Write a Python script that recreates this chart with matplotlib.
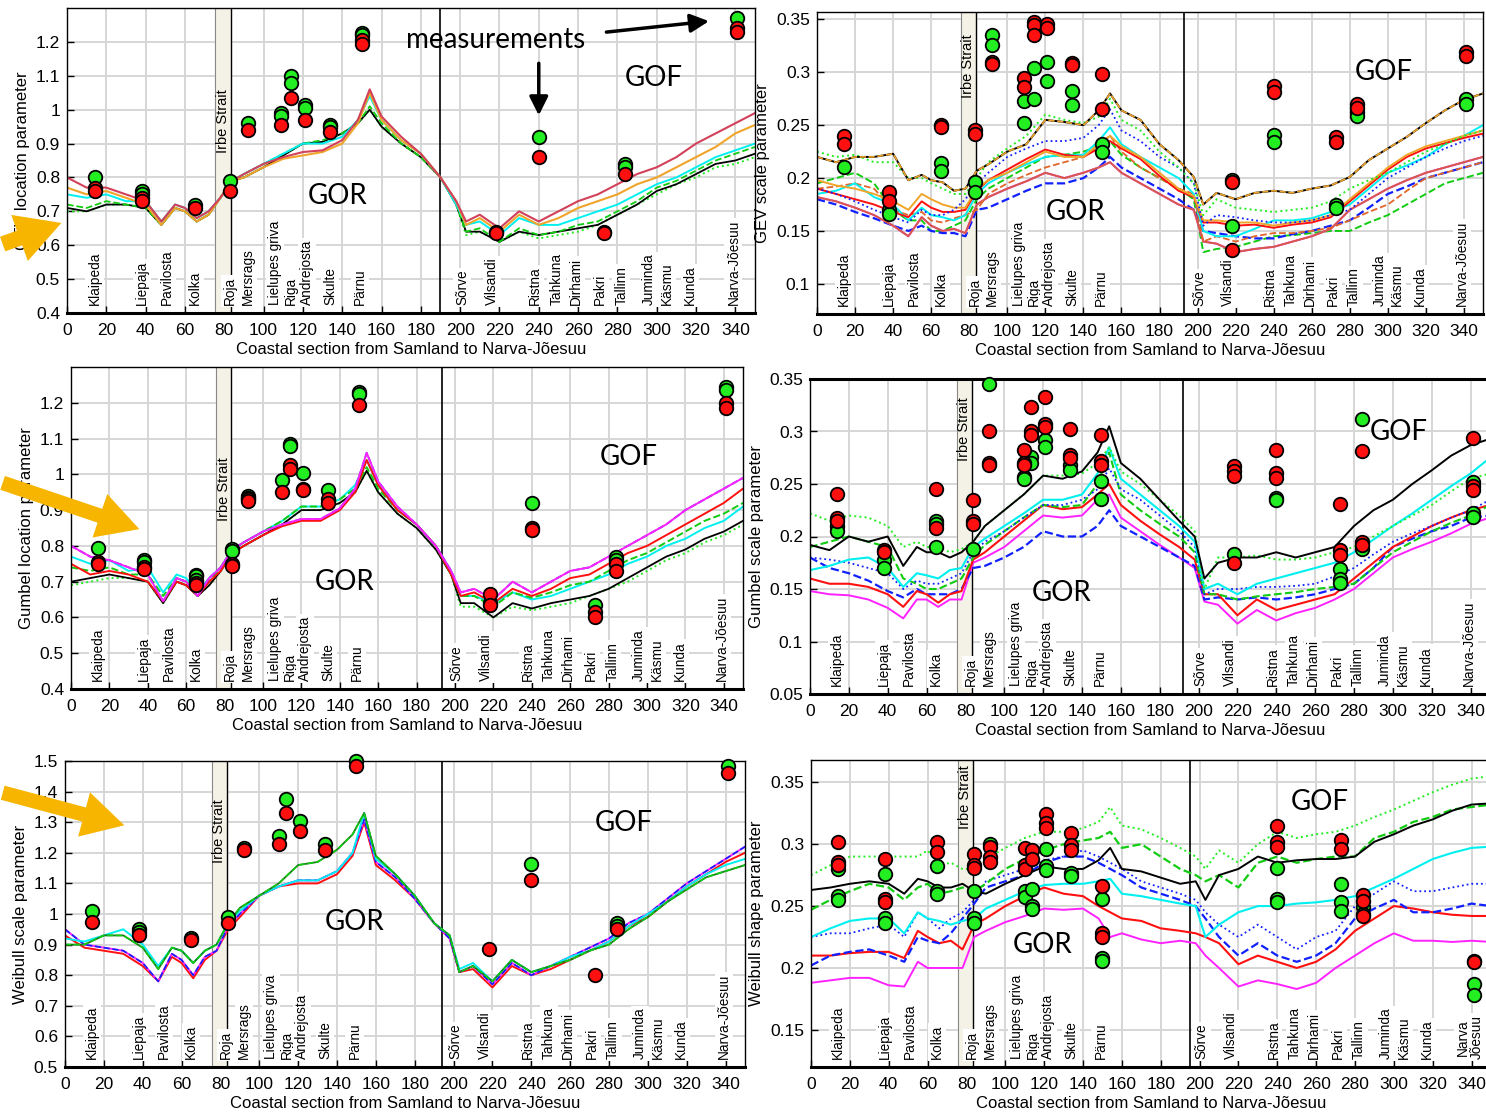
import matplotlib.pyplot as plt
from matplotlib.patches import FancyArrowPatch

plt.rcParams["font.family"] = ["Liberation Sans", "DejaVu Sans"]

KM = [0, 10, 20, 30, 40, 48, 55, 60, 66, 72, 78, 84, 90, 100, 110, 120, 130, 140, 148, 154,
      160, 170, 180, 190, 198, 203, 210, 220, 230, 240, 250, 260, 270, 280, 290, 300, 310,
      320, 330, 340, 350]

STATIONS = ["Klaipeda", "Liepaja", "Pavilosta", "Kolka", "Roja", "Mersrags", "Lielupes griva",
            "Riga", "Andrejosta", "Skulte", "Pärnu", "Sõrve", "Vilsandi", "Ristna", "Tahkuna",
            "Dirhami", "Pakri", "Tallinn", "Juminda", "Käsmu", "Kunda", "Narva-Jõesuu"]
STATION_KM = [14, 38, 51, 65, 83, 92, 106, 114, 122, 134, 149, 201, 216, 238, 249, 259, 271,
              282, 296, 305, 317, 339]

# --- GEV location ---
gev_loc_red = [0.80, 0.77, 0.77, 0.75, 0.73, 0.67, 0.72, 0.71, 0.68, 0.70, 0.74, 0.79, 0.81, 0.84, 0.86, 0.875, 0.88, 0.91, 0.97, 1.06, 0.98, 0.92, 0.87, 0.80, 0.73, 0.67, 0.69, 0.65, 0.70, 0.67, 0.70, 0.73, 0.75, 0.78, 0.81, 0.83, 0.86, 0.90, 0.93, 0.96, 0.99]
gev_loc_orange = [0.77, 0.75, 0.76, 0.74, 0.72, 0.66, 0.71, 0.70, 0.67, 0.69, 0.74, 0.79, 0.80, 0.83, 0.855, 0.865, 0.875, 0.90, 0.96, 1.05, 0.97, 0.91, 0.87, 0.80, 0.73, 0.66, 0.68, 0.64, 0.69, 0.66, 0.68, 0.71, 0.73, 0.75, 0.78, 0.80, 0.83, 0.86, 0.89, 0.93, 0.955]
gev_loc_cyan = [0.75, 0.74, 0.75, 0.73, 0.73, 0.67, 0.72, 0.71, 0.68, 0.70, 0.74, 0.79, 0.81, 0.84, 0.87, 0.90, 0.90, 0.92, 0.97, 1.04, 0.97, 0.91, 0.87, 0.80, 0.72, 0.66, 0.67, 0.63, 0.68, 0.66, 0.66, 0.68, 0.70, 0.72, 0.75, 0.78, 0.80, 0.83, 0.86, 0.88, 0.90]
gev_loc_green = [0.72, 0.71, 0.73, 0.72, 0.71, 0.66, 0.71, 0.70, 0.67, 0.69, 0.74, 0.79, 0.81, 0.84, 0.87, 0.90, 0.91, 0.93, 0.96, 1.01, 0.96, 0.90, 0.86, 0.80, 0.72, 0.64, 0.65, 0.61, 0.65, 0.63, 0.64, 0.66, 0.67, 0.70, 0.73, 0.77, 0.79, 0.82, 0.85, 0.87, 0.89]
gev_loc_black = [0.71, 0.70, 0.72, 0.72, 0.71, 0.66, 0.71, 0.70, 0.67, 0.69, 0.74, 0.79, 0.80, 0.83, 0.865, 0.90, 0.905, 0.93, 0.96, 1.00, 0.95, 0.90, 0.86, 0.80, 0.72, 0.64, 0.64, 0.61, 0.64, 0.63, 0.64, 0.65, 0.66, 0.69, 0.72, 0.76, 0.78, 0.81, 0.84, 0.85, 0.87]
gev_loc_lime = [0.70, 0.70, 0.72, 0.72, 0.71, 0.66, 0.71, 0.70, 0.67, 0.69, 0.74, 0.79, 0.80, 0.83, 0.865, 0.90, 0.905, 0.93, 0.96, 1.00, 0.95, 0.90, 0.86, 0.80, 0.72, 0.63, 0.64, 0.61, 0.64, 0.62, 0.63, 0.64, 0.66, 0.69, 0.72, 0.75, 0.78, 0.80, 0.83, 0.84, 0.86]
gev_loc_meas_green = [(14, 0.80), (38, 0.76), (38, 0.75), (65, 0.72), (83, 0.79), (92, 0.96), (109, 0.99), (109, 0.98), (114, 1.10), (114, 1.08), (121, 1.015), (121, 1.005), (134, 0.955), (134, 0.95), (150, 1.225), (150, 1.22), (218, 0.64), (240, 0.92), (273, 0.64), (284, 0.84), (284, 0.83), (341, 1.27)]
gev_loc_meas_red = [(14, 0.77), (14, 0.76), (38, 0.74), (38, 0.73), (65, 0.71), (83, 0.76), (92, 0.94), (109, 0.955), (114, 1.035), (121, 0.97), (134, 0.935), (150, 1.205), (150, 1.195), (218, 0.635), (240, 0.86), (273, 0.635), (284, 0.81), (341, 1.24), (341, 1.23)]

# --- GEV scale ---
gev_scale_black = [0.220, 0.215, 0.220, 0.220, 0.223, 0.198, 0.203, 0.198, 0.196, 0.188, 0.190, 0.207, 0.213, 0.225, 0.232, 0.255, 0.253, 0.250, 0.264, 0.280, 0.264, 0.255, 0.232, 0.217, 0.201, 0.175, 0.186, 0.180, 0.186, 0.188, 0.186, 0.190, 0.193, 0.201, 0.217, 0.228, 0.239, 0.252, 0.264, 0.274, 0.280]
gev_scale_lime = [0.225, 0.220, 0.222, 0.215, 0.215, 0.200, 0.200, 0.195, 0.190, 0.185, 0.185, 0.200, 0.215, 0.228, 0.240, 0.260, 0.255, 0.252, 0.258, 0.275, 0.255, 0.245, 0.225, 0.210, 0.195, 0.165, 0.180, 0.172, 0.170, 0.168, 0.170, 0.172, 0.178, 0.190, 0.198, 0.205, 0.215, 0.225, 0.232, 0.240, 0.245]
gev_scale_bluedot = [0.190, 0.185, 0.178, 0.170, 0.163, 0.158, 0.170, 0.165, 0.165, 0.170, 0.180, 0.195, 0.205, 0.220, 0.228, 0.235, 0.235, 0.238, 0.250, 0.265, 0.245, 0.235, 0.220, 0.210, 0.195, 0.155, 0.165, 0.163, 0.160, 0.158, 0.158, 0.160, 0.165, 0.170, 0.185, 0.200, 0.210, 0.220, 0.228, 0.235, 0.240]
gev_scale_orange = [0.198, 0.193, 0.190, 0.185, 0.178, 0.170, 0.185, 0.180, 0.175, 0.172, 0.172, 0.190, 0.198, 0.205, 0.215, 0.225, 0.220, 0.220, 0.232, 0.240, 0.230, 0.220, 0.205, 0.190, 0.183, 0.160, 0.160, 0.158, 0.158, 0.155, 0.158, 0.160, 0.165, 0.180, 0.195, 0.210, 0.222, 0.230, 0.235, 0.240, 0.245]
gev_scale_red = [0.190, 0.185, 0.180, 0.175, 0.168, 0.163, 0.178, 0.172, 0.168, 0.168, 0.170, 0.188, 0.198, 0.208, 0.218, 0.227, 0.222, 0.220, 0.228, 0.235, 0.228, 0.218, 0.202, 0.188, 0.182, 0.158, 0.158, 0.155, 0.156, 0.153, 0.156, 0.158, 0.163, 0.178, 0.193, 0.208, 0.220, 0.228, 0.233, 0.238, 0.242]
gev_scale_cyan = [0.185, 0.188, 0.195, 0.182, 0.175, 0.160, 0.172, 0.165, 0.163, 0.160, 0.165, 0.185, 0.195, 0.205, 0.213, 0.220, 0.222, 0.222, 0.235, 0.248, 0.232, 0.220, 0.210, 0.200, 0.185, 0.150, 0.145, 0.145, 0.152, 0.160, 0.160, 0.162, 0.168, 0.175, 0.190, 0.205, 0.212, 0.220, 0.232, 0.240, 0.250]
gev_scale_orangedash = [0.190, 0.192, 0.195, 0.190, 0.170, 0.165, 0.168, 0.160, 0.158, 0.162, 0.165, 0.170, 0.185, 0.195, 0.203, 0.210, 0.215, 0.220, 0.230, 0.240, 0.225, 0.210, 0.200, 0.190, 0.185, 0.140, 0.145, 0.140, 0.145, 0.148, 0.148, 0.150, 0.153, 0.160, 0.168, 0.175, 0.188, 0.200, 0.205, 0.210, 0.215]
gev_scale_brown = [0.182, 0.178, 0.172, 0.165, 0.155, 0.145, 0.163, 0.155, 0.150, 0.152, 0.148, 0.175, 0.182, 0.190, 0.197, 0.205, 0.200, 0.205, 0.210, 0.215, 0.205, 0.195, 0.185, 0.175, 0.170, 0.140, 0.138, 0.130, 0.133, 0.135, 0.140, 0.145, 0.152, 0.170, 0.180, 0.190, 0.198, 0.205, 0.210, 0.215, 0.220]
gev_scale_bluedash = [0.180, 0.175, 0.168, 0.162, 0.155, 0.150, 0.155, 0.150, 0.148, 0.148, 0.145, 0.170, 0.172, 0.180, 0.188, 0.195, 0.195, 0.200, 0.210, 0.220, 0.210, 0.200, 0.190, 0.180, 0.170, 0.150, 0.148, 0.145, 0.143, 0.143, 0.147, 0.150, 0.155, 0.160, 0.172, 0.185, 0.192, 0.200, 0.205, 0.210, 0.215]
gev_scale_greendash = [0.195, 0.200, 0.205, 0.195, 0.170, 0.160, 0.160, 0.150, 0.150, 0.155, 0.160, 0.180, 0.190, 0.200, 0.210, 0.220, 0.222, 0.225, 0.230, 0.235, 0.222, 0.210, 0.200, 0.190, 0.180, 0.130, 0.133, 0.135, 0.140, 0.145, 0.146, 0.148, 0.150, 0.150, 0.158, 0.165, 0.175, 0.185, 0.195, 0.200, 0.205]
gev_scale_meas_green = [(14, 0.21), (38, 0.17), (38, 0.166), (65, 0.214), (65, 0.207), (83, 0.196), (83, 0.187), (92, 0.335), (92, 0.326), (109, 0.273), (109, 0.252), (114, 0.304), (114, 0.275), (121, 0.31), (121, 0.292), (134, 0.282), (134, 0.269), (150, 0.232), (150, 0.225), (218, 0.198), (218, 0.155), (240, 0.241), (240, 0.234), (273, 0.175), (273, 0.172), (284, 0.262), (284, 0.259), (341, 0.275), (341, 0.27)]
gev_scale_meas_red = [(14, 0.24), (14, 0.232), (38, 0.187), (38, 0.178), (65, 0.25), (65, 0.248), (83, 0.245), (83, 0.242), (92, 0.31), (92, 0.308), (109, 0.295), (109, 0.286), (114, 0.348), (114, 0.345), (114, 0.335), (121, 0.346), (121, 0.342), (134, 0.309), (134, 0.307), (150, 0.298), (150, 0.265), (218, 0.196), (218, 0.132), (240, 0.287), (240, 0.281), (273, 0.239), (273, 0.234), (284, 0.27), (284, 0.266), (341, 0.319), (341, 0.315)]

# --- Gumbel location ---
gum_loc_magenta = [0.80, 0.77, 0.76, 0.74, 0.72, 0.645, 0.71, 0.70, 0.66, 0.71, 0.74, 0.79, 0.81, 0.84, 0.86, 0.875, 0.875, 0.905, 0.96, 1.06, 0.98, 0.91, 0.86, 0.80, 0.73, 0.67, 0.68, 0.65, 0.70, 0.67, 0.70, 0.73, 0.74, 0.77, 0.80, 0.83, 0.86, 0.90, 0.93, 0.96, 0.99]
gum_loc_red = [0.75, 0.72, 0.73, 0.72, 0.70, 0.645, 0.70, 0.69, 0.66, 0.70, 0.73, 0.78, 0.80, 0.83, 0.855, 0.87, 0.87, 0.90, 0.95, 1.04, 0.97, 0.90, 0.86, 0.80, 0.72, 0.66, 0.67, 0.64, 0.68, 0.66, 0.68, 0.71, 0.72, 0.75, 0.78, 0.80, 0.83, 0.86, 0.89, 0.92, 0.96]
gum_loc_cyan = [0.77, 0.75, 0.76, 0.73, 0.74, 0.67, 0.72, 0.71, 0.67, 0.71, 0.74, 0.79, 0.81, 0.84, 0.87, 0.91, 0.91, 0.93, 0.97, 1.04, 0.97, 0.90, 0.86, 0.80, 0.73, 0.66, 0.66, 0.64, 0.67, 0.65, 0.66, 0.68, 0.70, 0.72, 0.75, 0.77, 0.80, 0.82, 0.85, 0.87, 0.91]
gum_loc_green = [0.74, 0.73, 0.74, 0.72, 0.72, 0.66, 0.71, 0.70, 0.67, 0.70, 0.74, 0.79, 0.81, 0.84, 0.87, 0.91, 0.91, 0.93, 0.96, 1.02, 0.96, 0.90, 0.86, 0.80, 0.72, 0.66, 0.66, 0.63, 0.67, 0.655, 0.67, 0.69, 0.70, 0.73, 0.76, 0.78, 0.81, 0.84, 0.87, 0.89, 0.92]
gum_loc_black = [0.70, 0.71, 0.72, 0.71, 0.70, 0.64, 0.70, 0.69, 0.66, 0.69, 0.73, 0.78, 0.80, 0.83, 0.86, 0.90, 0.90, 0.92, 0.95, 1.01, 0.95, 0.89, 0.85, 0.79, 0.72, 0.64, 0.64, 0.60, 0.64, 0.625, 0.64, 0.65, 0.66, 0.68, 0.71, 0.74, 0.77, 0.79, 0.82, 0.84, 0.87]
gum_loc_lime = [0.69, 0.70, 0.71, 0.71, 0.70, 0.64, 0.70, 0.69, 0.66, 0.69, 0.73, 0.78, 0.80, 0.83, 0.86, 0.90, 0.90, 0.92, 0.95, 1.01, 0.95, 0.89, 0.85, 0.79, 0.72, 0.63, 0.63, 0.60, 0.63, 0.62, 0.63, 0.64, 0.66, 0.68, 0.70, 0.73, 0.76, 0.78, 0.81, 0.83, 0.86]
gum_loc_meas_green = [(14, 0.795), (38, 0.76), (38, 0.755), (65, 0.72), (65, 0.715), (65, 0.705), (84, 0.79), (84, 0.785), (92, 0.94), (92, 0.935), (110, 0.985), (114, 1.085), (114, 1.08), (121, 1.005), (134, 0.955), (150, 1.23), (150, 1.225), (218, 0.64), (240, 0.92), (273, 0.635), (284, 0.77), (284, 0.76), (341, 1.245), (341, 1.235)]
gum_loc_meas_red = [(14, 0.755), (14, 0.75), (38, 0.74), (38, 0.735), (65, 0.695), (65, 0.69), (84, 0.75), (84, 0.745), (92, 0.93), (92, 0.925), (110, 0.95), (114, 1.025), (114, 1.015), (121, 0.96), (121, 0.955), (134, 0.93), (134, 0.92), (150, 1.195), (218, 0.665), (218, 0.635), (240, 0.85), (240, 0.845), (273, 0.615), (273, 0.60), (284, 0.75), (284, 0.73), (341, 1.20), (341, 1.185)]

# --- Gumbel scale ---
gum_scale_black = [0.192, 0.187, 0.200, 0.195, 0.200, 0.172, 0.190, 0.185, 0.185, 0.180, 0.185, 0.195, 0.210, 0.225, 0.240, 0.258, 0.255, 0.262, 0.280, 0.305, 0.270, 0.255, 0.235, 0.215, 0.200, 0.160, 0.175, 0.180, 0.180, 0.185, 0.180, 0.185, 0.190, 0.210, 0.225, 0.235, 0.250, 0.263, 0.277, 0.287, 0.293]
gum_scale_lime = [0.222, 0.215, 0.220, 0.218, 0.210, 0.190, 0.195, 0.190, 0.190, 0.185, 0.188, 0.195, 0.210, 0.225, 0.240, 0.258, 0.258, 0.260, 0.270, 0.285, 0.262, 0.250, 0.235, 0.220, 0.205, 0.150, 0.180, 0.180, 0.182, 0.178, 0.178, 0.180, 0.185, 0.190, 0.200, 0.210, 0.220, 0.230, 0.243, 0.255, 0.260]
gum_scale_cyan = [0.168, 0.172, 0.178, 0.180, 0.170, 0.152, 0.165, 0.163, 0.160, 0.168, 0.170, 0.190, 0.198, 0.210, 0.222, 0.235, 0.235, 0.240, 0.260, 0.285, 0.255, 0.240, 0.225, 0.210, 0.195, 0.150, 0.155, 0.145, 0.155, 0.160, 0.165, 0.170, 0.175, 0.185, 0.197, 0.210, 0.222, 0.235, 0.248, 0.260, 0.275]
gum_scale_bluedot = [0.180, 0.178, 0.175, 0.170, 0.165, 0.150, 0.158, 0.155, 0.155, 0.160, 0.165, 0.185, 0.195, 0.205, 0.218, 0.230, 0.230, 0.235, 0.245, 0.265, 0.245, 0.235, 0.220, 0.205, 0.190, 0.145, 0.150, 0.150, 0.152, 0.152, 0.153, 0.155, 0.162, 0.170, 0.183, 0.195, 0.203, 0.210, 0.218, 0.225, 0.235]
gum_scale_greendash = [0.190, 0.195, 0.200, 0.195, 0.190, 0.160, 0.155, 0.150, 0.150, 0.155, 0.160, 0.180, 0.192, 0.205, 0.218, 0.230, 0.228, 0.230, 0.250, 0.280, 0.240, 0.225, 0.212, 0.200, 0.185, 0.145, 0.145, 0.140, 0.143, 0.145, 0.147, 0.150, 0.152, 0.155, 0.170, 0.185, 0.195, 0.205, 0.213, 0.220, 0.230]
gum_scale_red = [0.160, 0.155, 0.155, 0.152, 0.145, 0.133, 0.148, 0.145, 0.137, 0.145, 0.148, 0.178, 0.185, 0.200, 0.215, 0.230, 0.226, 0.228, 0.240, 0.250, 0.230, 0.215, 0.202, 0.190, 0.178, 0.145, 0.145, 0.125, 0.140, 0.130, 0.135, 0.140, 0.145, 0.160, 0.175, 0.190, 0.200, 0.210, 0.218, 0.225, 0.230]
gum_scale_bluedash = [0.180, 0.170, 0.165, 0.158, 0.148, 0.142, 0.150, 0.145, 0.145, 0.145, 0.150, 0.170, 0.172, 0.180, 0.190, 0.205, 0.200, 0.200, 0.210, 0.225, 0.210, 0.200, 0.190, 0.180, 0.172, 0.140, 0.142, 0.140, 0.142, 0.140, 0.142, 0.145, 0.150, 0.155, 0.170, 0.190, 0.198, 0.205, 0.210, 0.218, 0.220]
gum_scale_magenta = [0.148, 0.145, 0.144, 0.140, 0.132, 0.122, 0.140, 0.140, 0.133, 0.140, 0.140, 0.175, 0.180, 0.190, 0.205, 0.220, 0.218, 0.220, 0.235, 0.240, 0.218, 0.205, 0.192, 0.180, 0.170, 0.138, 0.135, 0.117, 0.130, 0.120, 0.127, 0.132, 0.140, 0.150, 0.165, 0.180, 0.188, 0.195, 0.203, 0.212, 0.218]
gum_scale_meas_green = [(14, 0.21), (14, 0.205), (38, 0.178), (38, 0.17), (65, 0.215), (65, 0.212), (65, 0.19), (84, 0.188), (92, 0.345), (110, 0.257), (110, 0.255), (114, 0.276), (114, 0.27), (121, 0.292), (121, 0.285), (134, 0.268), (134, 0.263), (150, 0.253), (150, 0.236), (218, 0.183), (240, 0.237), (240, 0.235), (273, 0.169), (273, 0.16), (273, 0.156), (284, 0.312), (284, 0.188), (341, 0.252), (341, 0.222), (341, 0.219)]
gum_scale_meas_red = [(14, 0.24), (14, 0.218), (14, 0.215), (38, 0.187), (38, 0.185), (65, 0.245), (65, 0.208), (84, 0.235), (84, 0.215), (84, 0.212), (92, 0.30), (92, 0.27), (92, 0.268), (110, 0.282), (110, 0.27), (110, 0.268), (114, 0.323), (114, 0.30), (114, 0.297), (121, 0.333), (121, 0.307), (121, 0.304), (134, 0.302), (134, 0.278), (134, 0.275), (150, 0.297), (150, 0.272), (150, 0.268), (218, 0.267), (218, 0.262), (218, 0.258), (218, 0.175), (240, 0.282), (240, 0.26), (240, 0.256), (273, 0.231), (273, 0.187), (273, 0.182), (284, 0.281), (284, 0.195), (284, 0.192), (341, 0.294), (341, 0.248), (341, 0.244)]

# --- Weibull scale ---
wei_scale_magenta = [0.95, 0.90, 0.89, 0.88, 0.84, 0.78, 0.87, 0.85, 0.80, 0.86, 0.88, 0.96, 1.00, 1.06, 1.09, 1.11, 1.11, 1.14, 1.20, 1.31, 1.17, 1.12, 1.05, 0.97, 0.92, 0.81, 0.83, 0.77, 0.84, 0.80, 0.83, 0.86, 0.89, 0.92, 0.97, 1.00, 1.05, 1.10, 1.14, 1.18, 1.22]
wei_scale_red = [0.93, 0.89, 0.88, 0.87, 0.83, 0.78, 0.86, 0.84, 0.79, 0.85, 0.88, 0.95, 0.99, 1.06, 1.09, 1.10, 1.10, 1.13, 1.19, 1.30, 1.16, 1.11, 1.05, 0.97, 0.92, 0.81, 0.82, 0.76, 0.83, 0.80, 0.82, 0.85, 0.88, 0.91, 0.96, 0.99, 1.04, 1.09, 1.13, 1.17, 1.20]
wei_scale_cyan = [0.92, 0.91, 0.93, 0.95, 0.90, 0.83, 0.89, 0.88, 0.84, 0.88, 0.90, 0.97, 1.01, 1.06, 1.09, 1.11, 1.11, 1.14, 1.20, 1.33, 1.18, 1.13, 1.06, 0.97, 0.93, 0.82, 0.84, 0.78, 0.85, 0.81, 0.83, 0.86, 0.88, 0.91, 0.96, 1.00, 1.04, 1.09, 1.13, 1.16, 1.18]
wei_scale_green = [0.90, 0.90, 0.93, 0.93, 0.89, 0.82, 0.89, 0.88, 0.84, 0.88, 0.90, 0.97, 1.02, 1.06, 1.10, 1.16, 1.17, 1.21, 1.26, 1.33, 1.19, 1.13, 1.06, 0.97, 0.93, 0.81, 0.83, 0.78, 0.85, 0.81, 0.83, 0.85, 0.88, 0.90, 0.95, 0.99, 1.04, 1.08, 1.12, 1.14, 1.16]
wei_scale_meas_green = [(14, 1.01), (38, 0.95), (38, 0.94), (65, 0.92), (84, 0.99), (92, 1.215), (110, 1.255), (114, 1.375), (121, 1.305), (134, 1.23), (150, 1.50), (240, 1.165), (284, 0.97), (284, 0.96), (341, 1.485)]
wei_scale_meas_red = [(14, 0.975), (38, 0.93), (65, 0.915), (84, 0.97), (92, 1.21), (110, 1.23), (114, 1.33), (121, 1.27), (134, 1.21), (150, 1.485), (218, 0.885), (240, 1.11), (273, 0.80), (284, 0.95), (341, 1.46)]

# --- Weibull shape ---
wei_shape_lime = [0.275, 0.283, 0.290, 0.290, 0.290, 0.290, 0.290, 0.295, 0.283, 0.285, 0.280, 0.280, 0.288, 0.297, 0.305, 0.310, 0.310, 0.313, 0.318, 0.330, 0.315, 0.312, 0.305, 0.297, 0.290, 0.280, 0.295, 0.285, 0.300, 0.310, 0.305, 0.308, 0.310, 0.315, 0.322, 0.328, 0.335, 0.342, 0.348, 0.353, 0.355]
wei_shape_greendash = [0.247, 0.255, 0.262, 0.268, 0.265, 0.255, 0.265, 0.268, 0.260, 0.262, 0.265, 0.262, 0.268, 0.280, 0.288, 0.295, 0.300, 0.303, 0.305, 0.310, 0.297, 0.300, 0.290, 0.280, 0.275, 0.270, 0.275, 0.265, 0.285, 0.290, 0.285, 0.288, 0.290, 0.290, 0.305, 0.310, 0.318, 0.322, 0.328, 0.330, 0.332]
wei_shape_black = [0.263, 0.265, 0.268, 0.270, 0.268, 0.260, 0.272, 0.270, 0.265, 0.265, 0.268, 0.262, 0.260, 0.268, 0.275, 0.282, 0.280, 0.280, 0.287, 0.297, 0.280, 0.278, 0.273, 0.268, 0.270, 0.255, 0.275, 0.280, 0.290, 0.285, 0.287, 0.288, 0.288, 0.290, 0.302, 0.308, 0.315, 0.320, 0.327, 0.332, 0.333]
wei_shape_bluedot = [0.225, 0.228, 0.228, 0.232, 0.235, 0.225, 0.245, 0.240, 0.232, 0.240, 0.245, 0.255, 0.270, 0.275, 0.280, 0.287, 0.290, 0.295, 0.290, 0.285, 0.280, 0.270, 0.265, 0.260, 0.255, 0.245, 0.235, 0.225, 0.235, 0.225, 0.215, 0.225, 0.230, 0.250, 0.260, 0.270, 0.262, 0.262, 0.265, 0.268, 0.268]
wei_shape_bluedash = [0.202, 0.210, 0.213, 0.215, 0.210, 0.205, 0.225, 0.222, 0.220, 0.228, 0.240, 0.252, 0.265, 0.270, 0.275, 0.285, 0.290, 0.290, 0.285, 0.280, 0.275, 0.265, 0.260, 0.255, 0.250, 0.240, 0.225, 0.210, 0.220, 0.210, 0.205, 0.210, 0.220, 0.240, 0.248, 0.255, 0.245, 0.245, 0.248, 0.252, 0.250]
wei_shape_cyan = [0.225, 0.232, 0.238, 0.240, 0.240, 0.228, 0.245, 0.240, 0.238, 0.235, 0.238, 0.240, 0.248, 0.255, 0.262, 0.267, 0.268, 0.268, 0.270, 0.272, 0.260, 0.258, 0.255, 0.252, 0.250, 0.225, 0.235, 0.245, 0.250, 0.250, 0.252, 0.253, 0.255, 0.258, 0.265, 0.272, 0.280, 0.288, 0.293, 0.297, 0.298]
wei_shape_red = [0.210, 0.210, 0.212, 0.213, 0.213, 0.208, 0.230, 0.225, 0.220, 0.222, 0.215, 0.235, 0.240, 0.250, 0.258, 0.265, 0.260, 0.258, 0.250, 0.245, 0.240, 0.238, 0.232, 0.230, 0.228, 0.225, 0.220, 0.203, 0.210, 0.205, 0.200, 0.205, 0.215, 0.230, 0.240, 0.250, 0.248, 0.245, 0.243, 0.242, 0.242]
wei_shape_magenta = [0.188, 0.190, 0.192, 0.192, 0.186, 0.185, 0.205, 0.200, 0.200, 0.200, 0.200, 0.225, 0.230, 0.237, 0.242, 0.248, 0.247, 0.248, 0.240, 0.225, 0.228, 0.223, 0.220, 0.222, 0.220, 0.210, 0.200, 0.185, 0.190, 0.187, 0.183, 0.188, 0.200, 0.210, 0.220, 0.228, 0.222, 0.222, 0.221, 0.222, 0.221]
wei_shape_meas_green = [(14, 0.28), (14, 0.258), (14, 0.255), (38, 0.276), (38, 0.24), (38, 0.236), (65, 0.282), (65, 0.262), (65, 0.26), (84, 0.262), (84, 0.24), (84, 0.236), (92, 0.30), (110, 0.262), (110, 0.257), (114, 0.264), (114, 0.25), (114, 0.248), (121, 0.296), (121, 0.282), (121, 0.279), (134, 0.277), (134, 0.274), (150, 0.256), (150, 0.208), (150, 0.206), (240, 0.281), (240, 0.256), (240, 0.253), (273, 0.268), (273, 0.253), (273, 0.246), (284, 0.249), (284, 0.244), (341, 0.187), (341, 0.178)]
wei_shape_meas_red = [(14, 0.302), (14, 0.286), (14, 0.283), (38, 0.288), (38, 0.256), (38, 0.253), (65, 0.302), (65, 0.294), (84, 0.292), (84, 0.283), (84, 0.281), (92, 0.298), (92, 0.29), (92, 0.286), (110, 0.297), (110, 0.283), (110, 0.28), (114, 0.295), (114, 0.288), (121, 0.324), (121, 0.317), (121, 0.313), (134, 0.309), (134, 0.299), (134, 0.295), (150, 0.266), (150, 0.228), (150, 0.225), (240, 0.315), (240, 0.302), (240, 0.298), (273, 0.303), (273, 0.296), (284, 0.259), (284, 0.254), (284, 0.242), (341, 0.206), (341, 0.205)]

W, H = 1486, 1115
fig = plt.figure(figsize=(W / 100, H / 100), dpi=100)

C_RED = "#ff1010"
C_ORANGE = "#f0a52a"
C_DORANGE = "#e0662a"
C_BROWN = "#d65a4a"
C_CYAN = "#00f0f0"
C_LIME = "#22ee22"
C_GREEN = "#11cc11"
C_BLUE = "#1020ff"
C_MAGENTA = "#ff22ff"
C_DKGREEN = "#1a7a1a"


def fxy(x, y):
    return x / W, 1 - y / H


def make_axes(left, top, right, bottom):
    return fig.add_axes([left / W, 1 - bottom / H, (right - left) / W, (bottom - top) / H])


def setup(ax, ylim, yticks, ylabel, sep_km, irbe_y, names=STATIONS):
    ax.set_xlim(0, 350)
    ax.set_ylim(*ylim)
    ax.set_xticks(range(0, 350, 20))
    ax.set_yticks(yticks)
    ax.set_yticklabels([f"{v:g}" for v in yticks])
    ax.grid(True, color="#d6d6d6", lw=1.4)
    ax.set_axisbelow(True)
    ax.tick_params(direction="in", length=5, labelsize=12.5, width=1)
    ax.tick_params(axis="x", pad=7)
    ax.tick_params(axis="y", pad=5)
    for lab in ax.get_xticklabels() + ax.get_yticklabels():
        lab.set_family(["Liberation Sans Narrow", "Liberation Sans"])
    for s in ax.spines.values():
        s.set_linewidth(1.0)
    ax.spines["bottom"].set_linewidth(2.2)
    ax.set_xlabel("Coastal section from Samland to Narva-Jõesuu", fontsize=12, labelpad=3)
    ax.set_ylabel(ylabel, fontsize=12, labelpad=4)
    ax.axvspan(75.5, 83.5, color="#f4f2e6", zorder=0.8)
    ax.axvline(75.5, color="#888888", lw=0.8, zorder=0.9)
    ax.axvline(83.5, color="black", lw=1.0, zorder=0.9)
    ax.axvline(sep_km, color="black", lw=1.2, zorder=0.9)
    ax.text(79.5, irbe_y, "Irbe Strait", transform=ax.get_xaxis_transform(), rotation=90,
            ha="center", va="center", fontsize=10.5, zorder=4)
    for name, x in zip(names, STATION_KM):
        ax.text(x, 0.025, name, transform=ax.get_xaxis_transform(), rotation=90,
                ha="center", va="bottom", fontsize=9.8, zorder=3, linespacing=1.0,
                bbox=dict(fc="white", ec="none", pad=1.5))


def curves(ax, spec):
    for vals, color, ls, lw in spec:
        ax.plot(KM, vals, color=color, ls=ls, lw=lw, zorder=2)


def meas(ax, green, red):
    for pts, c in ((green, C_LIME), (red, C_RED)):
        ax.scatter([p[0] for p in pts], [p[1] for p in pts], s=95, c=c,
                   edgecolors="black", linewidths=1.3, zorder=5, clip_on=False)


def region_text(x, y, s):
    fig.text(*fxy(x, y), s, fontsize=20, family=["Lato", "DejaVu Sans"], ha="center", va="center")


# panel 1: GEV location
ax1 = make_axes(67, 8, 755, 313)
setup(ax1, (0.4, 1.3), [0.4, 0.5, 0.6, 0.7, 0.8, 0.9, 1.0, 1.1, 1.2], "GEV location parameter", 190, 0.63)
curves(ax1, [(gev_loc_lime, C_LIME, ":", 1.4), (gev_loc_black, "black", "-", 1.3),
             (gev_loc_green, C_GREEN, "--", 1.3), (gev_loc_cyan, C_CYAN, "-", 1.4),
             (gev_loc_orange, C_ORANGE, "-", 1.5), (gev_loc_red, "#d2405a", "-", 1.5)])
meas(ax1, gev_loc_meas_green, gev_loc_meas_red)
ax1.annotate("", xy=(240, 0.975), xytext=(240, 1.145),
             arrowprops=dict(arrowstyle="-|>", color="black", lw=2.5, mutation_scale=28))
ax1.annotate("", xy=(328, 1.262), xytext=(273, 1.228),
             arrowprops=dict(arrowstyle="-|>", color="black", lw=2.5, mutation_scale=28))
ax1.text(218, 1.205, "measurements", fontsize=20, family=["Lato", "DejaVu Sans"], ha="center", va="center")
region_text(338, 196, "GOR")
region_text(654, 78, "GOF")

# panel 2: GEV scale
ax2 = make_axes(817, 12, 1483, 314)
setup(ax2, (0.0715, 0.357), [0.1, 0.15, 0.2, 0.25, 0.3, 0.35], "GEV scale parameter", 193, 0.82)
curves(ax2, [(gev_scale_greendash, C_GREEN, "--", 1.4), (gev_scale_bluedash, C_BLUE, "--", 1.6),
             (gev_scale_brown, C_MAGENTA, "-", 1.4), (gev_scale_brown, C_BROWN, "-", 1.4),
             (gev_scale_orangedash, C_DORANGE, "--", 1.3), (gev_scale_cyan, C_CYAN, "-", 1.4),
             (gev_scale_red, C_RED, "-", 1.4), (gev_scale_orange, C_ORANGE, "-", 1.4),
             (gev_scale_bluedot, C_BLUE, ":", 1.3), (gev_scale_lime, C_LIME, ":", 1.4),
             (gev_scale_black, "black", "-", 1.4), (gev_scale_black, C_ORANGE, "--", 1.2)])
meas(ax2, gev_scale_meas_green, gev_scale_meas_red)
region_text(1076, 212, "GOR")
region_text(1384, 72, "GOF")

# panel 3: Gumbel location
ax3 = make_axes(71, 367, 743, 689)
setup(ax3, (0.4, 1.3), [0.4, 0.5, 0.6, 0.7, 0.8, 0.9, 1.0, 1.1, 1.2], "Gumbel location parameter", 193, 0.62)
curves(ax3, [(gum_loc_lime, C_LIME, ":", 1.4), (gum_loc_black, "black", "-", 1.3),
             (gum_loc_cyan, C_CYAN, "-", 1.4), (gum_loc_green, C_GREEN, "--", 1.4),
             (gum_loc_red, C_RED, "-", 1.4), (gum_loc_magenta, C_BLUE, "--", 1.3),
             (gum_loc_magenta, C_MAGENTA, "-", 1.4)])
meas(ax3, gum_loc_meas_green, gum_loc_meas_red)
region_text(345, 582, "GOR")
region_text(629, 457, "GOF")

# panel 4: Gumbel scale
ax4 = make_axes(810, 379, 1490, 694)
setup(ax4, (0.05, 0.35), [0.05, 0.1, 0.15, 0.2, 0.25, 0.3, 0.35], "Gumbel scale parameter", 192, 0.84)
ax4.spines["top"].set_linewidth(2.2)
curves(ax4, [(gum_scale_magenta, C_MAGENTA, "-", 1.4), (gum_scale_bluedash, C_BLUE, "--", 1.6),
             (gum_scale_red, C_RED, "-", 1.5), (gum_scale_greendash, C_GREEN, "--", 1.5),
             (gum_scale_bluedot, C_BLUE, ":", 1.3), (gum_scale_cyan, C_CYAN, "-", 1.5),
             (gum_scale_lime, C_LIME, ":", 1.4), (gum_scale_black, "black", "-", 1.4)])
meas(ax4, gum_scale_meas_green, gum_scale_meas_red)
region_text(1062, 593, "GOR")
region_text(1399, 432, "GOF")

# panel 5: Weibull scale
ax5 = make_axes(65, 761, 745, 1067)
setup(ax5, (0.5, 1.5), [0.5, 0.6, 0.7, 0.8, 0.9, 1.0, 1.1, 1.2, 1.3, 1.4, 1.5], "Weibull scale parameter", 194, 0.77)
curves(ax5, [(wei_scale_red, C_RED, "-", 1.4), (wei_scale_magenta, C_MAGENTA, "-", 1.4),
             (wei_scale_magenta, C_BLUE, "--", 1.2), (wei_scale_cyan, C_CYAN, "-", 1.4),
             (wei_scale_green, C_DKGREEN, "-", 1.3), (wei_scale_green, C_GREEN, "--", 1.2)])
meas(ax5, wei_scale_meas_green, wei_scale_meas_red)
region_text(355, 922, "GOR")
region_text(624, 823, "GOF")

# panel 6: Weibull shape
ax6 = make_axes(811, 760, 1491, 1067)
names6 = STATIONS[:-1] + ["Narva\nJõesuu"]
setup(ax6, (0.12, 0.368), [0.15, 0.2, 0.25, 0.3, 0.35], "Weibull shape parameter", 195, 0.88, names6)
curves(ax6, [(wei_shape_magenta, C_MAGENTA, "-", 1.4), (wei_shape_red, C_RED, "-", 1.5),
             (wei_shape_bluedash, C_BLUE, "--", 1.6), (wei_shape_bluedot, C_BLUE, ":", 1.3),
             (wei_shape_cyan, C_CYAN, "-", 1.5), (wei_shape_greendash, C_GREEN, "--", 1.6),
             (wei_shape_black, "black", "-", 1.4), (wei_shape_lime, C_LIME, ":", 1.4)])
meas(ax6, wei_shape_meas_green, wei_shape_meas_red)
region_text(1043, 945, "GOR")
region_text(1320, 802, "GOF")

# yellow arrows coming in from the left margin
for tail, tip, scale in (((0, 245), (64, 222), 16), ((0, 482), (142, 530), 15), ((0, 792), (127, 826), 15)):
    fig.add_artist(FancyArrowPatch(fxy(*tail), fxy(*tip), transform=fig.transFigure,
                                   arrowstyle="simple,head_width=2.2,head_length=2.0,tail_width=0.7",
                                   mutation_scale=scale, color="#f7b500", lw=0, zorder=10))

fig.savefig("out.png", dpi=100)
